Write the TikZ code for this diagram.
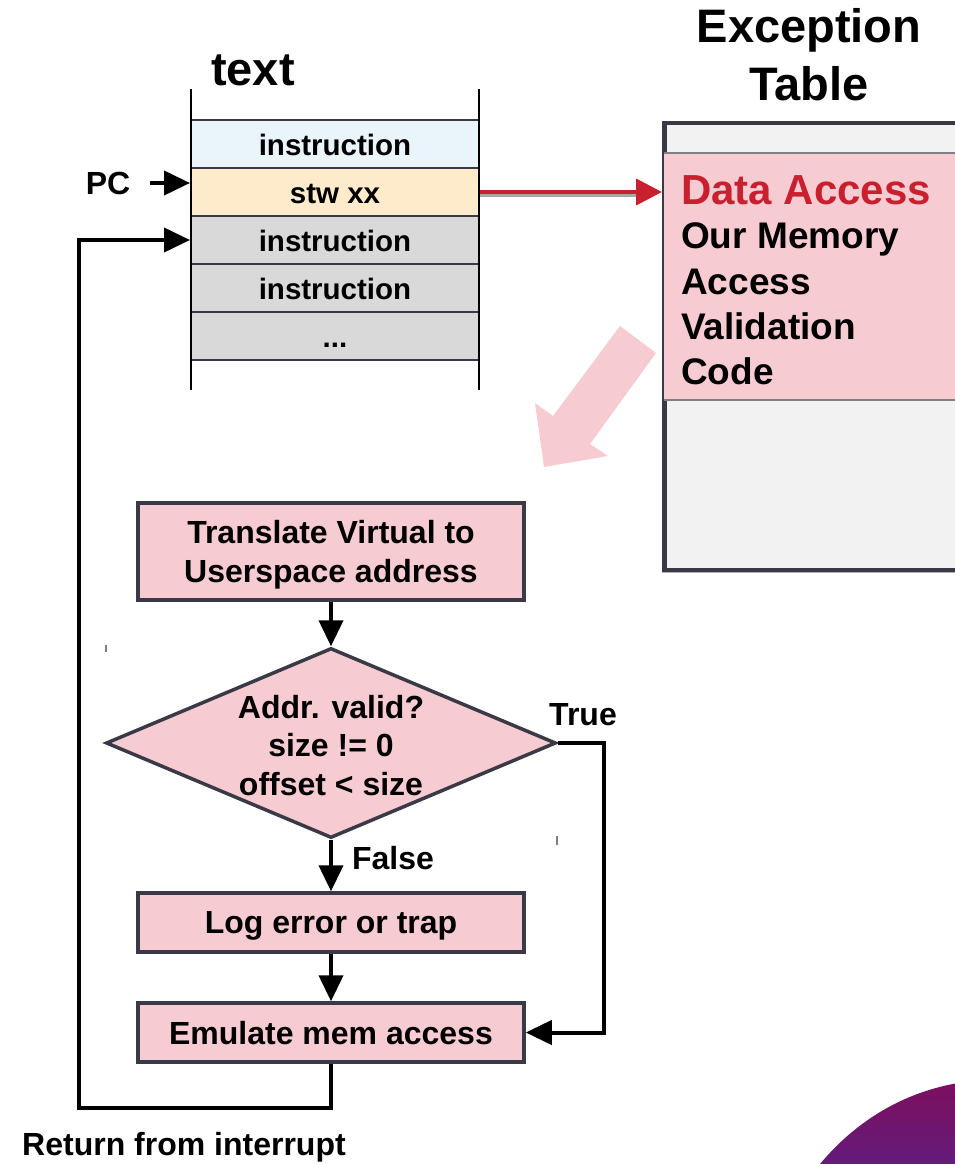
\documentclass[tikz,border=0pt]{standalone}
\usepackage{fontspec}
\setmainfont{Liberation Sans}
\usetikzlibrary{arrows.meta,shapes.geometric,calc}
\definecolor{pinkfill}{HTML}{F6CBD1}
\definecolor{bordc}{HTML}{3A3A46}
\definecolor{cellblue}{HTML}{E9F4FB}
\definecolor{cellyel}{HTML}{FDEBCB}
\definecolor{cellgray}{HTML}{D9D9D9}
\definecolor{tblgray}{HTML}{F2F2F2}
\definecolor{dared}{HTML}{C8202F}
\definecolor{purpA}{HTML}{7D0F5E}
\definecolor{purpB}{HTML}{621C7C}
\begin{document}
\begin{tikzpicture}[x=1pt,y=-1pt,
  cell/.style={draw=bordc,line width=2pt,minimum width=288pt,minimum height=48pt,inner sep=0pt,
    text height=22pt,text depth=0pt,font=\fontsize{29.5}{34}\selectfont\bfseries},
  fbox/.style={draw=bordc,line width=3.5pt,fill=pinkfill,minimum width=386pt,inner sep=0pt,
    align=center,text depth=0pt,font=\fontsize{32}{38.5}\selectfont\bfseries},
  arr/.style={line width=4pt,-{Triangle[length=26pt,width=24pt]}},
  lbl/.style={font=\fontsize{32}{38}\selectfont\bfseries,inner sep=0pt},
  ttl/.style={font=\fontsize{47}{56}\selectfont\bfseries,inner sep=0pt},
  exbig/.style={font=\fontsize{42}{50}\selectfont\bfseries,inner sep=0pt,text=dared},
  exsm/.style={font=\fontsize{37}{45}\selectfont\bfseries,inner sep=0pt}
]
\useasboundingbox (0,0) rectangle (955,1164);
\clip (0,0) rectangle (955,1164);

% ---- text column ----
\node[ttl,anchor=base] (textlbl) at (253,85) {text};
\node[cell,fill=cellblue] (c1) at (335,144) {instruction};
\node[cell,fill=cellyel] (c2) at (335,192) {stw xx};
\node[cell,fill=cellgray] (c3) at (335,240) {instruction};
\node[cell,fill=cellgray] (c4) at (335,288) {instruction};
\node[cell,fill=cellgray] (c5) at (335,336) {...};
\coordinate (lt) at (191,89);
\coordinate (lb) at (191,390);
\coordinate (rt) at (479,89);
\coordinate (rb) at (479,390);
\draw[line width=2.5pt,draw=black] (lt) -- (lb);
\draw[line width=2.5pt,draw=black] (rt) -- (rb);

% PC
\node[lbl,anchor=base] (pc) at (108,194) {PC};
\coordinate (pcs) at (150,183);
\draw[arr] (pcs) -- (c2.west |- pcs);

% ---- exception table ----
\node[ttl,anchor=base] (ex1) at (809,43) {Exception};
\node[ttl,anchor=base] (ex2) at (809,100) {Table};
\draw[gray!60,line width=4.5pt] (664,124) rectangle (980,571);
\node[draw=bordc,line width=4.5pt,fill=tblgray,minimum width=313pt,minimum height=447pt,
  inner sep=0pt,anchor=north west] (ext) at (662,120.5) {};
\fill[pinkfill] (664,153) rectangle (980,400);
\draw[gray,line width=1.5pt] (664,153) -- (980,153);
\draw[gray,line width=1.5pt] (664,400) -- (980,400);
\node[exbig,anchor=base west] (ea1) at (681,204) {Data Access};
\node[exsm,anchor=base west] (ea2) at (681,248) {Our Memory};
\node[exsm,anchor=base west] (ea3) at (681,294) {Access};
\node[exsm,anchor=base west] (ea4) at (681,339) {Validation};
\node[exsm,anchor=base west] (ea5) at (681,384) {Code};

% red arrow
\coordinate (rtip) at (ext.west |- c2.east);
\draw[gray!70,line width=3pt] ([yshift=-3.5pt]c2.east) -- ([yshift=-3.5pt,xshift=-24pt]rtip);
\draw[dared,line width=4pt,-{Triangle[length=26pt,width=26pt]}] (c2.east) -- (rtip);

% big pink arrow
\fill[pinkfill] (620,326) -- (656,353) -- (590,444) -- (608,456) -- (544,467) -- (535,403) -- (553,416) -- cycle;

% ---- flowchart ----
\node[fbox,minimum height=97pt] (tr) at (331,551.5) {Translate Virtual to\\Userspace address};
\node[diamond,draw=bordc,line width=3.5pt,fill=pinkfill,minimum width=450pt,minimum height=190pt,
  inner sep=0pt] (dm) at (331,743) {};
\node[align=center,inner sep=0pt,text depth=0pt,font=\fontsize{32}{38.5}\selectfont\bfseries] (dmt) at (331,745)
  {Addr. valid?\\size != 0\\offset < size};
\node[fbox,minimum height=59pt] (lg) at (331,922.5) {Log error or trap};
\node[fbox,minimum height=59pt] (em) at (331,1032.5) {Emulate mem access};

\draw[arr] (tr.south) -- (dm.north);
\draw[arr] (dm.south) -- (lg.north);
\node[lbl] (fl) at (393,858) {False};
\draw[arr] (lg.south) -- (em.north);
\coordinate (tc) at (604,743);
\draw[arr] (dm.east) -- (tc) |- (em.east);
\node[lbl] (tl) at (583,715) {True};

% return
\coordinate (rc) at (79,1108);
\draw[arr] (em.south) |- (rc) |- (c3.west);
\node[lbl,anchor=base west] (ret) at (22,1155) {Return from interrupt};

% tiny ticks
\coordinate (k1a) at (106,645);
\coordinate (k1b) at (106,652);
\coordinate (k2a) at (557,836);
\coordinate (k2b) at (557,845);
\draw[gray,line width=1.2pt] (k1a) -- (k1b);
\draw[gray,line width=1.2pt] (k2a) -- (k2b);

% purple corner
\shade[top color=purpA,bottom color=purpB] (820,1164) .. controls (850,1128) and (895,1094) .. (958,1083) -- (958,1168) -- (818,1168) -- cycle;
\end{tikzpicture}
\end{document}
